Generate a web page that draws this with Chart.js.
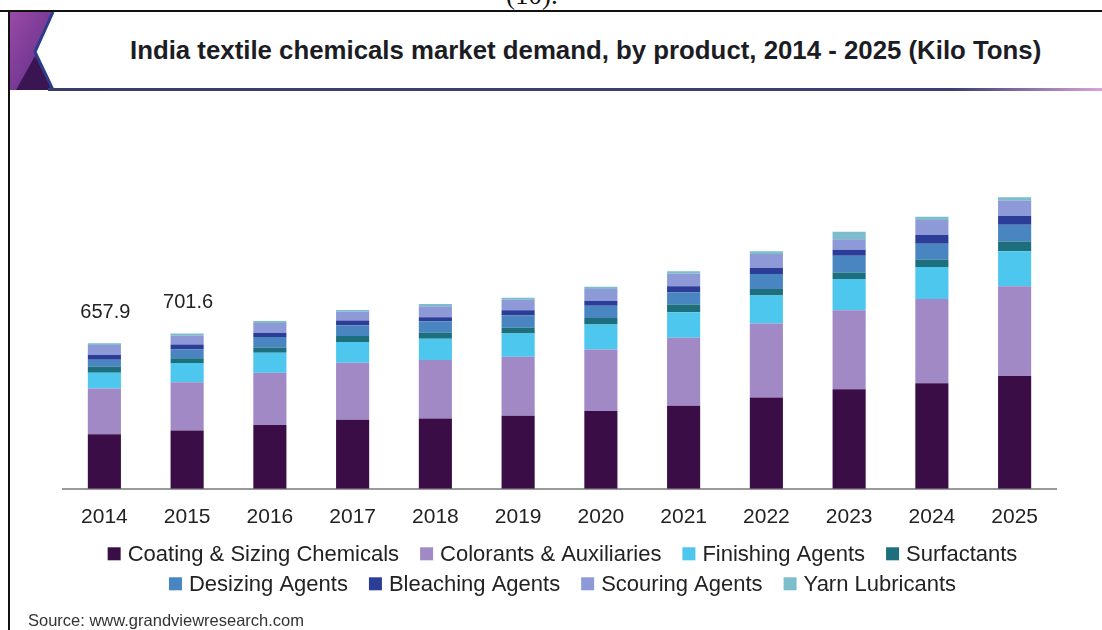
<!DOCTYPE html>
<html>
<head>
<meta charset="utf-8">
<script src="https://cdn.jsdelivr.net/npm/chart.js@4.4.1/dist/chart.umd.min.js"></script>
<style>
  html, body { margin: 0; padding: 0; background: #fff; }
  body { width: 1102px; height: 630px; position: relative; overflow: hidden; font-family: "Liberation Sans", Arial, sans-serif; }
  .page-no { position: absolute; left: 506px; top: -20px; font: 27px "Liberation Serif", serif; color: #111; }
  .frame-top { position: absolute; left: 0; top: 10px; width: 1102px; height: 2px; background: #111; }
  .frame-left { position: absolute; left: 8px; top: 10px; width: 2px; height: 620px; background: #111; }
  .deco { position: absolute; left: 10px; top: 12px; }
  .rule { position: absolute; left: 48px; top: 88px; width: 1054px; height: 3px; background: linear-gradient(to right, #3a3c6c 0%, #3d3f72 86%, #d9a6d6 100%); }
  .title { position: absolute; left: 130px; top: 36px; font-weight: bold; font-size: 25.8px; color: #1c1c24; white-space: nowrap; }
  .source { position: absolute; left: 28px; top: 611px; font-size: 16.5px; color: #333; }
  #wrap { position: absolute; left: 0; top: 95px; width: 1102px; height: 535px; }
</style>
</head>
<body>
<div class="page-no">(10).</div>
<div class="frame-top"></div>
<div class="frame-left"></div>
<svg class="deco" width="46" height="78" viewBox="0 0 46 78">
  <defs>
    <linearGradient id="pg" x1="0" y1="0" x2="1" y2="1">
      <stop offset="0" stop-color="#9a4aa6"/>
      <stop offset="1" stop-color="#5b2c86"/>
    </linearGradient>
  </defs>
  <polygon points="0,0 43,0 25,40 43,78 0,78" fill="url(#pg)"/>
  <polygon points="6,78 25,44 43,78" fill="#3b1552"/>
  <polyline points="43,0 25,40 43,78" fill="none" stroke="#2c3c8c" stroke-width="3"/>
</svg>
<div class="rule"></div>
<div class="title">India textile chemicals market demand, by product, 2014 - 2025 (Kilo Tons)</div>
<div id="wrap"><canvas id="chart"></canvas></div>
<div class="source">Source: www.grandviewresearch.com</div>

<script>
const years = ["2014", "2015", "2016", "2017", "2018", "2019", "2020", "2021", "2022", "2023", "2024", "2025"];

// kilo tons
const coatingSizing = [247, 263, 288, 312, 318, 330, 352, 375, 413, 450, 477, 510];
const colorantsAux = [206, 218, 237, 258, 264, 267, 278, 308, 334, 357, 381, 405];
const finishing = [72, 87, 90, 93, 96, 105, 112, 115, 126, 141, 144, 158];
const surfactants = [27, 22, 23, 27, 27, 26, 30, 35, 30, 30, 33, 45];
const desizing = [31, 40, 48, 48, 52, 55, 55, 55, 68, 75, 72, 75];
const bleaching = [22, 22, 18, 22, 18, 24, 22, 27, 27, 27, 40, 40];
const scouring = [45, 40, 45, 40, 50, 47, 54, 57, 63, 48, 68, 70];
const yarnLubricants = [7.9, 9.6, 9, 8, 10, 9, 10, 11, 12, 34, 14, 14];

const totalLabels = ["657.9", "701.6", "", "", "", "", "", "", "", "", "", ""];

const seriesNames = ["Coating & Sizing Chemicals", "Colorants & Auxiliaries", "Finishing Agents", "Surfactants",
  "Desizing Agents", "Bleaching Agents", "Scouring Agents", "Yarn Lubricants"];
const seriesData = [coatingSizing, colorantsAux, finishing, surfactants, desizing, bleaching, scouring, yarnLubricants];
const seriesColors = ["#3b0d46", "#a089c5", "#4dc7ee", "#1d6f7d", "#4885c1", "#2b3d96", "#8e9ad8", "#7dbdcc"];
const legendRows = [[0, 1, 2, 3], [4, 5, 6, 7]];

const FONT = "'Liberation Sans', Arial, sans-serif";
Chart.defaults.font.family = FONT;
Chart.defaults.color = "#222";

// totals above the first bars + two-row legend
const extras = {
  id: "extras",
  afterDraw(chart) {
    const { ctx, chartArea, scales: { x, y } } = chart;
    ctx.save();
    ctx.fillStyle = "#222";
    ctx.textBaseline = "middle";

    ctx.font = "20px " + FONT;
    ctx.textAlign = "center";
    totalLabels.forEach((t, i) => {
      if (!t) return;
      const total = chart.data.datasets.reduce((s, d) => s + d.data[i], 0);
      ctx.fillText(t, x.getPixelForValue(i) + 1, y.getPixelForValue(total) - 31);
    });

    ctx.font = "22px " + FONT;
    ctx.textAlign = "left";
    const box = 13, boxGap = 7, itemGap = 21;
    const cx = (chartArea.left + chartArea.right) / 2;
    legendRows.forEach((row, r) => {
      const widths = row.map(i => box + boxGap + ctx.measureText(chart.data.datasets[i].label).width);
      const rowW = widths.reduce((a, b) => a + b, 0) + itemGap * (row.length - 1);
      let xx = cx - rowW / 2 + 3;
      const yy = chartArea.bottom + 65 + r * 30;
      row.forEach((i, k) => {
        const ds = chart.data.datasets[i];
        ctx.fillStyle = ds.backgroundColor;
        ctx.fillRect(xx, yy - box / 2, box, box);
        ctx.fillStyle = "#222";
        ctx.fillText(ds.label, xx + box + boxGap, yy + 1);
        xx += widths[k] + itemGap;
      });
    });
    ctx.restore();
  }
};

new Chart(document.getElementById("chart"), {
  type: "bar",
  data: {
    labels: years,
    datasets: seriesNames.map((name, i) => ({
      label: name,
      data: seriesData[i],
      backgroundColor: seriesColors[i],
      borderWidth: 0,
      categoryPercentage: 1,
      barPercentage: 0.4,
    })),
  },
  options: {
    responsive: true,
    maintainAspectRatio: false,
    animation: false,
    layout: { padding: { top: 84, left: 63, right: 46, bottom: 84 } },
    plugins: {
      legend: { display: false },
      tooltip: { enabled: false },
      title: { display: false },
    },
    scales: {
      x: {
        stacked: true,
        grid: { display: false, drawTicks: false },
        border: { display: true, color: "#9a9a9a", width: 2 },
        ticks: { font: { size: 21 }, color: "#222", padding: 16 },
      },
      y: {
        stacked: true,
        display: false,
        min: 0,
        max: 1400,
      },
    },
  },
  plugins: [extras],
});
</script>
</body>
</html>
